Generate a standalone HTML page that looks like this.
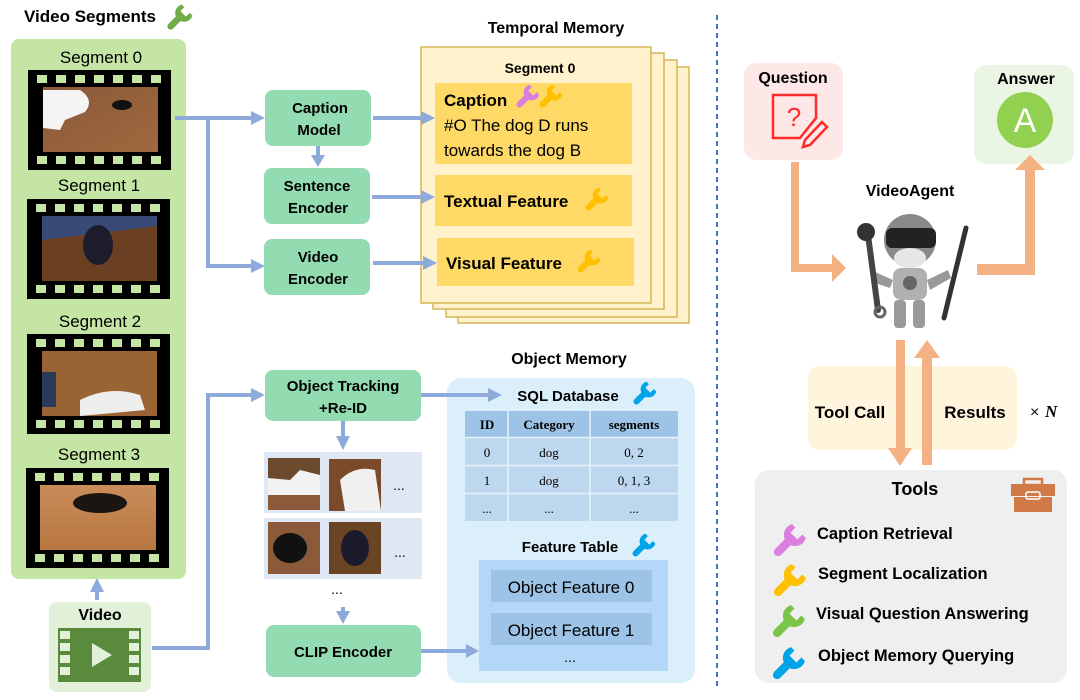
<!DOCTYPE html>
<html><head><meta charset="utf-8"><style>
html,body{margin:0;padding:0;background:#fff;}
svg{display:block;font-family:"Liberation Sans",sans-serif;}
.b{font-weight:bold;}
</style></head><body>
<svg width="1080" height="700" viewBox="0 0 1080 700" xmlns="http://www.w3.org/2000/svg">
<defs>
<linearGradient id="wood" x1="0" y1="0" x2="1" y2="1"><stop offset="0" stop-color="#8a5a3a"/><stop offset="1" stop-color="#a0683e"/></linearGradient>
<linearGradient id="wood2" x1="0" y1="0" x2="0" y2="1"><stop offset="0" stop-color="#c98d5a"/><stop offset="1" stop-color="#b8753f"/></linearGradient>
<g id="wr">
<rect x="-3" y="-2" width="6" height="17" rx="3"/>
<path d="M-7,-9 A8,8 0 1 0 7,-9 L3.5,-9 L3.5,-4 L-3.5,-4 L-3.5,-9 Z"/>
</g>
</defs>

<!-- Video segments -->
<text x="24" y="22" font-size="17" class="b">Video Segments</text>
<use href="#wr" transform="translate(180,17) rotate(45) scale(1.1)" fill="#70ad47"/>
<rect x="11" y="39" width="175" height="540" rx="8" fill="#c5e5a5"/>
<g font-size="17" text-anchor="middle">
<text x="101" y="63">Segment 0</text>
<text x="99" y="191">Segment 1</text>
<text x="100" y="327">Segment 2</text>
<text x="99" y="460">Segment 3</text>
</g>
<!-- films -->
<g stroke="#c5e5a5" stroke-width="8" stroke-dasharray="10,9">
</g>
<g>
<rect x="28" y="70" width="143" height="100" fill="#000"/>
<line x1="37" y1="79" x2="168" y2="79" stroke="#c5e5a5" stroke-width="8" stroke-dasharray="10,9"/>
<line x1="37" y1="160" x2="168" y2="160" stroke="#c5e5a5" stroke-width="8" stroke-dasharray="10,9"/>
<rect x="43" y="87" width="115" height="65" fill="url(#wood)"/>
<path d="M43,90 L80,90 Q95,100 85,112 L65,120 L60,130 L43,128 Z" fill="#f4f4f4"/>
<ellipse cx="122" cy="105" rx="10" ry="5" fill="#111"/>
</g>
<g>
<rect x="27" y="199" width="143" height="100" fill="#000"/>
<line x1="36" y1="208" x2="167" y2="208" stroke="#c5e5a5" stroke-width="8" stroke-dasharray="10,9"/>
<line x1="36" y1="289" x2="167" y2="289" stroke="#c5e5a5" stroke-width="8" stroke-dasharray="10,9"/>
<rect x="42" y="216" width="115" height="65" fill="#6b3f22"/>
<path d="M42,216 L157,216 L157,226 L42,240 Z" fill="#3a4a78"/>
<ellipse cx="98" cy="245" rx="15" ry="20" fill="#1c1c2c"/>
</g>
<g>
<rect x="27" y="334" width="143" height="100" fill="#000"/>
<line x1="36" y1="343" x2="167" y2="343" stroke="#c5e5a5" stroke-width="8" stroke-dasharray="10,9"/>
<line x1="36" y1="424" x2="167" y2="424" stroke="#c5e5a5" stroke-width="8" stroke-dasharray="10,9"/>
<rect x="42" y="351" width="115" height="65" fill="#9a6334"/>
<path d="M80,400 Q110,385 140,395 L145,410 L80,416 Z" fill="#eee"/>
<rect x="42" y="372" width="14" height="35" fill="#2b3a5a"/>
</g>
<g>
<rect x="26" y="468" width="143" height="100" fill="#000"/>
<line x1="35" y1="477" x2="166" y2="477" stroke="#c5e5a5" stroke-width="8" stroke-dasharray="10,9"/>
<line x1="35" y1="558" x2="166" y2="558" stroke="#c5e5a5" stroke-width="8" stroke-dasharray="10,9"/>
<rect x="40" y="485" width="116" height="65" fill="url(#wood2)"/>
<ellipse cx="100" cy="503" rx="27" ry="10" fill="#1a1510"/>
</g>

<!-- Video box -->
<rect x="49" y="602" width="102" height="90" rx="8" fill="#e2efd9"/>
<text x="100" y="620" font-size="16" class="b" text-anchor="middle">Video</text>
<rect x="58" y="628" width="83" height="54" fill="#5a8a3c"/>
<g fill="#e2efd9"><rect x="60" y="631" width="10" height="8"/><rect x="60" y="643" width="10" height="8"/><rect x="60" y="655" width="10" height="8"/><rect x="60" y="667" width="10" height="8"/>
<rect x="129" y="631" width="10" height="8"/><rect x="129" y="643" width="10" height="8"/><rect x="129" y="655" width="10" height="8"/><rect x="129" y="667" width="10" height="8"/></g>
<path d="M92,643 L112,655 L92,667 Z" fill="#e2efd9"/>

<!-- temporal memory -->
<text x="556" y="33" font-size="16" class="b" text-anchor="middle">Temporal Memory</text>
<g fill="#fff2cc" stroke="#d6b656" stroke-width="1.5">
<rect x="458" y="67" width="231" height="256"/>
<rect x="446" y="60" width="231" height="257"/>
<rect x="433" y="53" width="231" height="256"/>
<rect x="421" y="47" width="230" height="256"/>
</g>
<text x="540" y="73" font-size="14" class="b" text-anchor="middle">Segment 0</text>
<g fill="#ffd966">
<rect x="435" y="83" width="197" height="81"/>
<rect x="435" y="175" width="197" height="51"/>
<rect x="437" y="238" width="197" height="48"/>
</g>
<text x="444" y="106" font-size="17" class="b">Caption</text>
<use href="#wr" transform="translate(528,96) rotate(45)" fill="#da7fe0"/>
<use href="#wr" transform="translate(551,96) rotate(45)" fill="#ffc000"/>
<text x="444" y="131" font-size="17">#O The dog D runs</text>
<text x="444" y="156" font-size="17">towards the dog B</text>
<text x="444" y="207" font-size="17" class="b">Textual Feature</text>
<use href="#wr" transform="translate(597,199) rotate(45)" fill="#ffc000"/>
<text x="446" y="269" font-size="17" class="b">Visual Feature</text>
<use href="#wr" transform="translate(589,261) rotate(45)" fill="#ffc000"/>

<!-- object memory -->
<text x="569" y="364" font-size="16" class="b" text-anchor="middle">Object Memory</text>
<rect x="447" y="378" width="248" height="305" rx="14" fill="#dbeffb"/>
<text x="568" y="401" font-size="15" class="b" text-anchor="middle">SQL Database</text>
<use href="#wr" transform="translate(645,393) rotate(45)" fill="#00a2e8"/>
<rect x="465" y="411" width="213" height="26" fill="#9dc3e6"/>
<rect x="465" y="438" width="213" height="83" fill="#bdd7ee"/>
<g stroke="#e8f2fb" stroke-width="1.5"><line x1="508" y1="411" x2="508" y2="521"/><line x1="590" y1="411" x2="590" y2="521"/><line x1="465" y1="437.5" x2="678" y2="437.5"/><line x1="465" y1="465.5" x2="678" y2="465.5"/><line x1="465" y1="493.5" x2="678" y2="493.5"/></g>
<g font-family="Liberation Serif,serif" font-size="13" text-anchor="middle">
<text x="487" y="429" font-weight="bold">ID</text><text x="549" y="429" font-weight="bold">Category</text><text x="634" y="429" font-weight="bold">segments</text>
<text x="487" y="457">0</text><text x="549" y="457">dog</text><text x="634" y="457">0, 2</text>
<text x="487" y="485">1</text><text x="549" y="485">dog</text><text x="634" y="485">0, 1, 3</text>
<text x="487" y="513">...</text><text x="549" y="513">...</text><text x="634" y="513">...</text>
</g>
<text x="570" y="552" font-size="15" class="b" text-anchor="middle">Feature Table</text>
<use href="#wr" transform="translate(644,545) rotate(45)" fill="#00a2e8"/>
<rect x="479" y="560" width="189" height="111" fill="#b4d6f7"/>
<rect x="491" y="570" width="161" height="32" fill="#9dc3e6"/>
<rect x="491" y="613" width="161" height="32" fill="#9dc3e6"/>
<text x="571" y="593" font-size="17" text-anchor="middle">Object Feature 0</text>
<text x="571" y="636" font-size="17" text-anchor="middle">Object Feature 1</text>
<text x="570" y="662" font-size="14" text-anchor="middle">...</text>

<!-- thumbnails -->
<rect x="264" y="452" width="158" height="61" fill="#dde8f4"/>
<rect x="264" y="518" width="158" height="61" fill="#dde8f4"/>
<rect x="268" y="458" width="52" height="52" fill="#f2f2f2"/><path d="M268,458 L320,458 L320,475 L300,470 L290,480 L268,478 Z" fill="#6b4a2e"/><rect x="268" y="495" width="52" height="15" fill="#8a5a3a"/>
<rect x="329" y="459" width="52" height="52" fill="#7a4a2a"/><path d="M340,480 Q355,465 375,470 L381,511 L345,511 Z" fill="#f0f0f0"/>
<rect x="268" y="522" width="52" height="52" fill="#8a5a3a"/><ellipse cx="290" cy="548" rx="17" ry="15" fill="#111"/>
<rect x="329" y="522" width="52" height="52" fill="#6b4424"/><ellipse cx="355" cy="548" rx="14" ry="18" fill="#1b1b2b"/>
<g font-size="14" text-anchor="middle"><text x="399" y="490">...</text><text x="400" y="557">...</text><text x="337" y="594">...</text></g>

<!-- blue connectors -->
<g stroke="#8eaadb" stroke-width="4" fill="none">
<line x1="97" y1="600" x2="97" y2="590"/>
<line x1="175" y1="118" x2="252" y2="118"/>
<polyline points="208,118 208,266 252,266"/>
<line x1="318" y1="146" x2="318" y2="156"/>
<line x1="373" y1="118" x2="423" y2="118"/>
<line x1="372" y1="197" x2="423" y2="197"/>
<line x1="373" y1="263" x2="425" y2="263"/>
<polyline points="152,648 208,648 208,395 252,395"/>
<line x1="421" y1="395" x2="490" y2="395"/>
<line x1="343" y1="421" x2="343" y2="437"/>
<line x1="343" y1="607" x2="343" y2="612"/>
<line x1="421" y1="651" x2="468" y2="651"/>
</g>
<g fill="#8eaadb">
<path d="M90,592 L97,578 L104,592 Z"/>
<path d="M251,111 L265,118 L251,125 Z"/>
<path d="M251,259 L265,266 L251,273 Z"/>
<path d="M311,155 L318,167 L325,155 Z"/>
<path d="M421,111 L435,118 L421,125 Z"/>
<path d="M421,190 L435,197 L421,204 Z"/>
<path d="M423,256 L437,263 L423,270 Z"/>
<path d="M251,388 L265,395 L251,402 Z"/>
<path d="M488,388 L502,395 L488,402 Z"/>
<path d="M336,436 L343,450 L350,436 Z"/>
<path d="M336,611 L343,624 L350,611 Z"/>
<path d="M466,644 L479,651 L466,658 Z"/>
</g>

<!-- green boxes -->
<g fill="#93dbb1">
<rect x="265" y="90" width="106" height="56" rx="8"/>
<rect x="264" y="168" width="106" height="56" rx="8"/>
<rect x="264" y="239" width="106" height="56" rx="8"/>
<rect x="265" y="370" width="156" height="51" rx="8"/>
<rect x="266" y="625" width="155" height="52" rx="8"/>
</g>
<g font-size="15" class="b" text-anchor="middle">
<text x="320" y="113">Caption</text><text x="319" y="135">Model</text>
<text x="317" y="191">Sentence</text><text x="318" y="213">Encoder</text>
<text x="318" y="262">Video</text><text x="318" y="284">Encoder</text>
<text x="343" y="391">Object Tracking</text><text x="343" y="413">+Re-ID</text>
<text x="343" y="657">CLIP Encoder</text>
</g>

<!-- divider -->
<line x1="717" y1="15" x2="717" y2="690" stroke="#4472c4" stroke-width="2" stroke-dasharray="5,4"/>

<!-- right side -->
<rect x="744" y="63" width="99" height="97" rx="12" fill="#fde7e7"/>
<text x="793" y="83" font-size="16" class="b" text-anchor="middle">Question</text>
<path d="M773,95 L816,95 L816,118 L800,138 L773,138 Z" fill="none" stroke="#ff2a2a" stroke-width="2.5"/>
<text x="794" y="126" font-size="26" fill="#ff2a2a" text-anchor="middle">?</text>
<path d="M805,140 L822,122 L827,127 L810,145 L803,147 Z" fill="none" stroke="#ff2a2a" stroke-width="2.5"/>
<rect x="974" y="65" width="100" height="99" rx="12" fill="#ebf5e3"/>
<text x="1026" y="84" font-size="16" class="b" text-anchor="middle">Answer</text>
<circle cx="1025" cy="120" r="28" fill="#92d050"/>
<text x="1025" y="132" font-size="34" fill="#fff" text-anchor="middle">A</text>
<text x="910" y="196" font-size="16" class="b" text-anchor="middle">VideoAgent</text>

<!-- orange arrows -->
<g fill="#f4b183">
<path d="M791,162 L799,162 L799,264 L832,264 L832,254 L846,268 L832,282 L832,272 L791,272 Z"/>
<path d="M977,264 L1025,264 L1025,170 L1015,170 L1030,155 L1045,170 L1035,170 L1035,275 L977,275 Z"/>
</g>
<rect x="808" y="366" width="209" height="84" rx="12" fill="#fff5dc"/>
<g fill="#f4b183">
<path d="M896,340 L905,340 L905,448 L912,448 L900,466 L888,448 L896,448 Z"/>
<path d="M922,465 L932,465 L932,358 L940,358 L927,340 L914,358 L922,358 Z"/>
</g>
<text x="850" y="418" font-size="17" class="b" text-anchor="middle">Tool Call</text>
<text x="975" y="418" font-size="17" class="b" text-anchor="middle">Results</text>
<text x="1030" y="417" font-size="16">× </text><text x="1045" y="417" font-size="17" font-style="italic" font-weight="bold" font-family="Liberation Serif,serif">N</text>

<!-- robot -->
<g>
<ellipse cx="910" cy="240" rx="26" ry="26" fill="#8a8a8a"/>
<rect x="886" y="228" width="50" height="20" rx="6" fill="#222"/>
<ellipse cx="910" cy="258" rx="16" ry="10" fill="#e6e6e6"/>
<rect x="893" y="268" width="34" height="32" rx="8" fill="#b0b0b0"/>
<circle cx="910" cy="283" r="7" fill="#666"/>
<rect x="894" y="300" width="12" height="28" rx="4" fill="#9a9a9a"/>
<rect x="913" y="300" width="12" height="28" rx="4" fill="#9a9a9a"/>
<path d="M875,272 L893,280 L890,288 L872,282 Z" fill="#999"/>
<path d="M927,280 L948,270 L951,278 L930,290 Z" fill="#999"/>
<path d="M868,235 L878,310" stroke="#444" stroke-width="6" stroke-linecap="round"/>
<circle cx="866" cy="232" r="9" fill="#333"/><circle cx="880" cy="312" r="5" fill="none" stroke="#666" stroke-width="3"/>
<path d="M966,228 L944,318" stroke="#333" stroke-width="5" stroke-linecap="round"/>
</g>

<!-- tools -->
<rect x="755" y="470" width="312" height="213" rx="14" fill="#efefef"/>
<text x="915" y="495" font-size="18" class="b" text-anchor="middle">Tools</text>
<rect x="1011" y="484" width="44" height="12" fill="#d07a48"/>
<rect x="1014" y="497" width="38" height="15" fill="#d07a48"/>
<rect x="1024" y="479" width="18" height="6" fill="none" stroke="#d07a48" stroke-width="2.5"/>
<rect x="1026" y="492" width="14" height="7" rx="2" fill="none" stroke="#fff" stroke-width="1.5"/>
<use href="#wr" transform="translate(790,540) rotate(45) scale(1.4)" fill="#da7fe0"/>
<use href="#wr" transform="translate(790,580) rotate(45) scale(1.4)" fill="#ffc000"/>
<use href="#wr" transform="translate(789,621) rotate(45) scale(1.4)" fill="#7bc44a"/>
<use href="#wr" transform="translate(789,663) rotate(45) scale(1.4)" fill="#00a2e8"/>
<g font-size="16.5" class="b">
<text x="817" y="539">Caption Retrieval</text>
<text x="818" y="579">Segment Localization</text>
<text x="816" y="619">Visual Question Answering</text>
<text x="818" y="661">Object Memory Querying</text>
</g>
</svg>
</body></html>
